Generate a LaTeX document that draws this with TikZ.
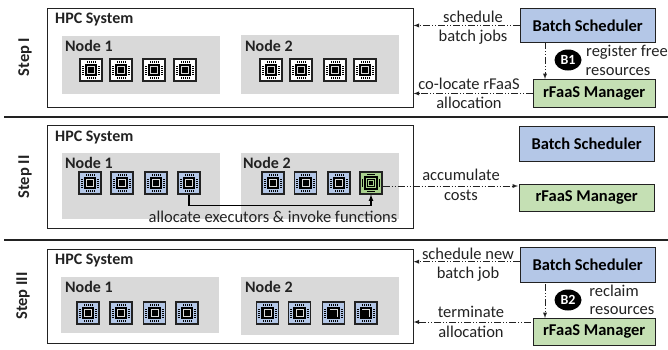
\documentclass[tikz,border=0pt]{standalone}
\usepackage{xcolor}
\usepackage{fontspec}
\usepackage{tikz}
\usetikzlibrary{positioning}
\usetikzlibrary{shapes.geometric}
\setmainfont{Carlito}

\definecolor{inkdark}{HTML}{222222}
\definecolor{greybg}{HTML}{D9D9D9}
\definecolor{batchblue}{HTML}{B4C7E7}
\definecolor{managergreen}{HTML}{C5E0B4}
\definecolor{busygreen}{HTML}{A9D18E}

% pins shared by every chip
\newcommand{\chippins}{
	\foreach \p in {-4,-2,0,2,4} {
		\draw[black, line width=0.9pt] (\p,-9.2) -- (\p,-7.4);
		\draw[black, line width=0.9pt] (\p,7.4) -- (\p,9.2);
		\draw[black, line width=0.9pt] (-9.2,\p) -- (-7.4,\p);
		\draw[black, line width=0.9pt] (7.4,\p) -- (9.2,\p);
	}
}
\newcommand{\chipart}{
	\begin{scope}[shift={(path picture bounding box.center)}]
		\chippins
		\fill[black] (-6.2,-6.2) rectangle (6.2,6.2);
		\draw[white!85!black, line width=0.8pt] (-3.6,-3.6) rectangle (3.6,3.6);
	\end{scope}
}
\newcommand{\chipcutart}{
	\begin{scope}[shift={(path picture bounding box.center)}]
		\chippins
		\fill[black] (-6.2,-6.2) rectangle (6.2,6.2);
		\draw[white!85!black, line width=0.8pt] (-3.6,-3.6) -- (3.6,-3.6) -- (3.6,3.6);
	\end{scope}
}
\newcommand{\chipbusyart}{
	\begin{scope}[shift={(path picture bounding box.center)}]
		\fill[black] (-6.6,-6.6) rectangle (6.6,6.6);
		\draw[busygreen, line width=0.8pt] (-4.6,-4.6) rectangle (4.6,4.6);
		\draw[busygreen, line width=0.8pt] (-2.4,-2.4) rectangle (2.4,2.4);
		\draw[black, line width=1.2pt] (-8.6,-4) -- (-8.6,4);
		\draw[black, line width=1.2pt] (8.6,-4) -- (8.6,4);
		\draw[black, line width=1.2pt] (-4,-8.6) -- (4,-8.6);
		\draw[black, line width=1.2pt] (-4,8.6) -- (4,8.6);
	\end{scope}
}

\tikzset{
	hpcbox/.style={draw=inkdark, line width=1.1pt, fill=white, anchor=north west, inner sep=0pt, minimum width=366pt},
	nodebox/.style={fill=greybg, anchor=north west, inner sep=0pt, minimum width=157.5pt},
	batchbox/.style={draw=inkdark, line width=0.9pt, fill=batchblue, anchor=north west, inner sep=0pt, minimum width=135.5pt, font=\bfseries\fontsize{16.5}{18}\selectfont},
	managerbox/.style={draw=inkdark, line width=0.9pt, fill=managergreen, anchor=north west, inner sep=0pt, minimum width=121.5pt, font=\bfseries\fontsize{16.5}{18}\selectfont},
	chip/.style={draw=inkdark, line width=1.1pt, fill=white, inner sep=0pt, minimum size=22pt, path picture={\chipart}},
	chipfree/.style={chip, fill=batchblue},
	chipcut/.style={chipfree, path picture={\chipcutart}},
	chipbusy/.style={draw=inkdark, line width=1.1pt, fill=busygreen, inner sep=0pt, minimum size=22pt, path picture={\chipbusyart}},
	title/.style={inner sep=0pt, text=inkdark, font=\bfseries\fontsize{16}{18}\selectfont},
	steplabel/.style={inner sep=0pt, rotate=90, text=inkdark, font=\bfseries\fontsize{16.5}{18}\selectfont},
	note/.style={inner sep=0pt, text=inkdark, font=\fontsize{16.5}{18}\selectfont},
	badge/.style={ellipse, fill=black, text=white, inner sep=0pt, minimum width=27pt, minimum height=21pt, font=\bfseries\fontsize{14}{15}\selectfont},
	flow/.style={-latex, inkdark, line width=0.9pt, dash pattern=on 7pt off 2pt on 1pt off 2pt on 1pt off 2pt},
	invoke/.style={-latex, black, line width=1.2pt},
	divider/.style={inkdark, line width=1.1pt},
}

\begin{document}
\begin{tikzpicture}[x=1pt, y=-1pt]
	\useasboundingbox (0,0) rectangle (668,349);

	% step I
	\node[steplabel] (stepA) at (25,57) {Step I};
	\node[hpcbox, minimum height=99pt] (hpcA) at (46.5,8) {};
	\node[title, anchor=west] (hpcTitleA) at (55,20) {HPC System};
	\node[nodebox, minimum height=58pt] (nodeA1) at (62,36) {};
	\node[nodebox, minimum height=59pt] (nodeA2) at (241,35) {};
	\node[title, anchor=west] (labelA1) at (65,46) {Node 1};
	\node[title, anchor=west] (labelA2) at (245,46) {Node 2};
	\node[chip] (chipA1) at (91,70) {};
	\node[chip] (chipA2) at (121,70) {};
	\node[chip] (chipA3) at (154,70) {};
	\node[chip] (chipA4) at (185,70) {};
	\node[chip] (chipA5) at (271,70) {};
	\node[chip] (chipA6) at (301,70) {};
	\node[chip] (chipA7) at (335,70) {};
	\node[chip] (chipA8) at (365,70) {};
	\node[batchbox, minimum height=34pt] (batchA) at (519.5,8) {Batch Scheduler};
	\node[managerbox, minimum height=28pt] (managerA) at (533,79) {rFaaS Manager};
	\coordinate (tapA) at (545,42);
	\draw[flow] (batchA.west) -- (batchA.west -| hpcA.east);
	\draw[flow] (managerA.west) -- (managerA.west -| hpcA.east);
	\draw[flow] (tapA) -- (tapA |- managerA.north);
	\node[note] (noteA1) at (473,17) {schedule};
	\node[note] (noteA2) at (473,37) {batch jobs};
	\node[note] (noteA3) at (469,84) {co-locate rFaaS};
	\node[note] (noteA4) at (469,103) {allocation};
	\node[badge] (badgeA) at (568,60) {B1};
	\node[note] (noteA5) at (627,52) {register free};
	\node[note] (noteA6) at (618,72) {resources};

	\coordinate (ruleAl) at (4,117);
	\coordinate (ruleAr) at (668,117);
	\draw[divider] (ruleAl) -- (ruleAr);

	% step II
	\node[steplabel] (stepB) at (25,177) {Step II};
	\node[hpcbox, minimum height=103pt] (hpcB) at (46.5,125) {};
	\node[title, anchor=west] (hpcTitleB) at (55,138) {HPC System};
	\node[nodebox, minimum height=66pt] (nodeB1) at (62,153) {};
	\node[nodebox, minimum height=66pt] (nodeB2) at (241,153) {};
	\node[title, anchor=west] (labelB1) at (65,163) {Node 1};
	\node[title, anchor=west] (labelB2) at (243,163) {Node 2};
	\node[chipfree] (chipB1) at (90,183) {};
	\node[chipfree] (chipB2) at (122,183) {};
	\node[chipfree] (chipB3) at (156,183) {};
	\node[chipfree] (chipB4) at (189,183) {};
	\node[chipfree] (chipB5) at (273,183) {};
	\node[chipfree] (chipB6) at (305.5,183) {};
	\node[chipfree] (chipB7) at (339,183) {};
	\node[chipbusy] (chipB8) at (371,183) {};
	\draw[invoke] (chipB4.south) -- ++(0,11) -| (chipB8.south);
	\node[note] (noteB1) at (273,217) {allocate executors \& invoke functions};
	\node[batchbox, minimum height=35pt] (batchB) at (518.5,125.5) {Batch Scheduler};
	\node[managerbox, minimum width=135.5pt, minimum height=27pt] (managerB) at (518.5,183.5) {rFaaS Manager};
	\coordinate (costsEnd) at (518,186);
	\draw[flow] (costsEnd -| chipB8.east) -- (costsEnd);
	\node[note] (noteB2) at (461,175) {accumulate};
	\node[note] (noteB3) at (461,195) {costs};

	\coordinate (ruleBl) at (4,240);
	\coordinate (ruleBr) at (668,240);
	\draw[divider] (ruleBl) -- (ruleBr);

	% step III
	\node[steplabel] (stepC) at (23,296) {Step III};
	\node[hpcbox, minimum height=94pt] (hpcC) at (46.5,249) {};
	\node[title, anchor=west] (hpcTitleC) at (55,261) {HPC System};
	\node[nodebox, minimum height=56pt] (nodeC1) at (61,277) {};
	\node[nodebox, minimum height=58pt] (nodeC2) at (241,277) {};
	\node[title, anchor=west] (labelC1) at (65,287) {Node 1};
	\node[title, anchor=west] (labelC2) at (245,287) {Node 2};
	\node[chipfree] (chipC1) at (88,313) {};
	\node[chipfree] (chipC2) at (121,313) {};
	\node[chipfree] (chipC3) at (154.5,313) {};
	\node[chipfree] (chipC4) at (187,313) {};
	\node[chipfree] (chipC5) at (267.5,313) {};
	\node[chipfree] (chipC6) at (299.5,313) {};
	\node[chipcut] (chipC7) at (333.5,313) {};
	\node[chipcut] (chipC8) at (366,313) {};
	\node[batchbox, minimum height=35pt] (batchC) at (519.5,247) {Batch Scheduler};
	\node[managerbox, minimum height=27pt] (managerC) at (533,318) {rFaaS Manager};
	\coordinate (tapC) at (545,284);
	\coordinate (scheduleStart) at (519.5,261.7);
	\coordinate (terminateStart) at (531,322);
	\draw[flow] (scheduleStart) -- (scheduleStart -| hpcC.east);
	\draw[flow] (terminateStart) -- (terminateStart -| hpcC.east);
	\draw[flow] (tapC) -- (tapC |- managerC.north);
	\node[note] (noteC1) at (468,254) {schedule new};
	\node[note] (noteC2) at (468,274) {batch job};
	\node[note] (noteC3) at (471,312) {terminate};
	\node[note] (noteC4) at (471,332) {allocation};
	\node[badge] (badgeC) at (568,300) {B2};
	\node[note] (noteC5) at (614,291) {reclaim};
	\node[note] (noteC6) at (622,311) {resources};
\end{tikzpicture}
\end{document}
